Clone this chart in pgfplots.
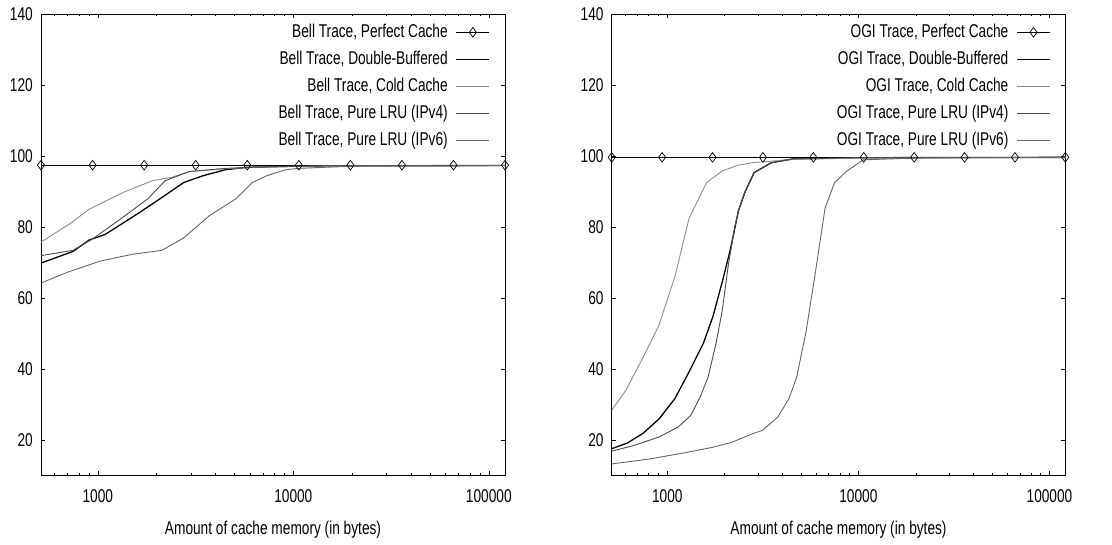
\documentclass[border=0pt]{standalone}
\usepackage{pgfplots}
\pgfplotsset{compat=1.18}
\usepackage{fontspec}
\setmainfont{Liberation Sans}[FakeStretch=0.74]
\newcommand\fsz{\fontsize{18.5pt}{21pt}\selectfont}
\definecolor{cold}{gray}{0.55}
\definecolor{lrufour}{gray}{0.30}
\definecolor{lrusix}{gray}{0.40}
\pgfplotsset{
  legend image code/.code={\draw[mark repeat=2,mark phase=2,#1] plot coordinates {(0cm,0cm) (0.58cm,0cm) (1.16cm,0cm)};},
  gnu/.style={
    scale only axis, xmin=512, xmax=121000, ymin=10, ymax=140,
    height=461.3pt, anchor=south west,
    ytick={20,40,60,80,100,120,140},
    xtick={1000,10000,100000}, xticklabels={1000,10000,100000},
    minor xtick={600,700,800,900,2000,3000,4000,5000,6000,7000,8000,9000,20000,30000,40000,50000,60000,70000,80000,90000},
    tick align=inside, major tick length=4.5pt, minor tick length=2.5pt,
    axis line style={line width=0.8pt},
    every tick/.style={black, line width=0.6pt},
    tick label style={font=\fsz},
    /pgf/number format/assume math mode=true,
    yticklabel style={anchor=east, inner sep=0pt, xshift=-8pt},
    xticklabel style={anchor=north, inner sep=0pt, yshift=-14pt},
    xlabel={Amount of cache memory (in bytes)},
    xlabel style={at={(axis description cs:0.5,0)}, anchor=north, inner sep=0pt, yshift=-46pt, font=\fsz},
    legend style={at={(0.9677,0.9798)}, anchor=north east, draw=none, fill=none,
      inner sep=0pt, outer sep=0pt, font=\fsz, row sep=9pt, column sep=8pt,
      nodes={text height=14pt, text depth=4pt, inner sep=0pt}},
    legend cell align=right, legend plot pos=right,
  },
  perfect/.style={black, line width=1.0pt, mark=diamond, mark size=4.8pt, mark options={fill=white, draw=black, line width=0.7pt, solid}},
  dbuf/.style={black, line width=1.3pt, no markers},
  coldc/.style={cold, line width=0.9pt, no markers},
  lru4/.style={lrufour, line width=0.9pt, no markers},
  lru6/.style={lrusix, line width=0.9pt, no markers},
}
\begin{document}
\begin{tikzpicture}
\useasboundingbox (0pt,0pt) rectangle (1112pt,544pt);
% ---------------- Bell ----------------
\begin{semilogxaxis}[gnu, width=464pt, at={(41pt,68.7pt)}]
\addplot[perfect] coordinates {(512,97.4) (939.8,97.4) (1725,97.4) (3166,97.4) (5811,97.4) (10667,97.4) (19579,97.4) (35937,97.4) (65963,97.4) (121000,97.4)};
\addlegendentry{Bell Trace, Perfect Cache}
\addplot[dbuf] coordinates {(512,69.8) (747,73.1) (903,76.3) (1092,77.9) (1629,84.0) (2128,88.3) (2748,92.5) (3444,94.4) (4478,96.1) (5821,96.8) (12000,97.2) (121000,97.3)};
\addlegendentry{Bell Trace, Double-Buffered}
\addplot[coldc] coordinates {(512,75.7) (733,81.2) (903,85.0) (1346,89.7) (1897,93.0) (2386,94.0) (2941,95.6) (4500,96.4) (7000,96.9) (15000,97.2) (121000,97.3)};
\addlegendentry{Bell Trace, Cold Cache}
\addplot[lru4] coordinates {(512,71.9) (747,73.4) (939,76.6) (1297,82.1) (1791,87.8) (2208,93.0) (2941,95.6) (4500,96.5) (7000,96.9) (15000,97.2) (121000,97.3)};
\addlegendentry{Bell Trace, Pure LRU (IPv4)}
\addplot[lru6] coordinates {(512,64.2) (705,67.3) (1032,70.4) (1511,72.3) (2128,73.4) (2748,76.9) (3709,83.1) (5105,88.0) (6166,92.5) (7300,94.4) (9141,96.1) (10620,96.5) (20000,97.1) (121000,97.3)};
\addlegendentry{Bell Trace, Pure LRU (IPv6)}
\end{semilogxaxis}
% ---------------- OGI ----------------
\begin{semilogxaxis}[gnu, width=453.6pt, at={(611.7pt,68.7pt)}]
\addplot[perfect] coordinates {(512,99.6) (939.8,99.6) (1725,99.6) (3166,99.6) (5811,99.6) (10667,99.6) (19579,99.6) (35937,99.6) (65963,99.6) (121000,99.6)};
\addlegendentry{OGI Trace, Perfect Cache}
\addplot[dbuf] coordinates {(512,17.5) (619,19.1) (750,21.9) (906,25.9) (1096,31.6) (1302,39.2) (1545,47.2) (1733,54.7) (1942,64.6) (2138,73.6) (2354,84.4) (2541,89.6) (2847,95.3) (3509,98.1) (4580,99.2) (10000,99.5) (121000,99.6)};
\addlegendentry{OGI Trace, Double-Buffered}
\addplot[coldc] coordinates {(512,28.3) (608,34.0) (750,43.4) (906,52.4) (1096,66.0) (1302,82.5) (1607,92.5) (1942,95.8) (2350,97.4) (2788,98.1) (4500,99.0) (10000,99.4) (121000,99.6)};
\addlegendentry{OGI Trace, Cold Cache}
\addplot[lru4] coordinates {(512,16.8) (668,18.4) (906,20.8) (1140,23.6) (1328,26.9) (1487,32.1) (1636,37.7) (1800,47.2) (1942,56.6) (2094,69.8) (2260,80.2) (2354,84.4) (2541,89.6) (2847,95.3) (3509,98.1) (4580,99.2) (10000,99.5) (121000,99.6)};
\addlegendentry{OGI Trace, Pure LRU (IPv4)}
\addplot[lru6] coordinates {(512,13.2) (809,14.6) (1277,16.5) (1733,17.9) (2178,19.3) (2788,21.7) (3133,22.6) (3788,26.4) (4330,31.6) (4760,37.7) (5340,50.9) (5985,67.9) (6700,85.4) (7515,92.5) (8750,95.8) (10590,98.9) (20000,99.4) (121000,99.6)};
\addlegendentry{OGI Trace, Pure LRU (IPv6)}
\end{semilogxaxis}
\end{tikzpicture}
\end{document}
